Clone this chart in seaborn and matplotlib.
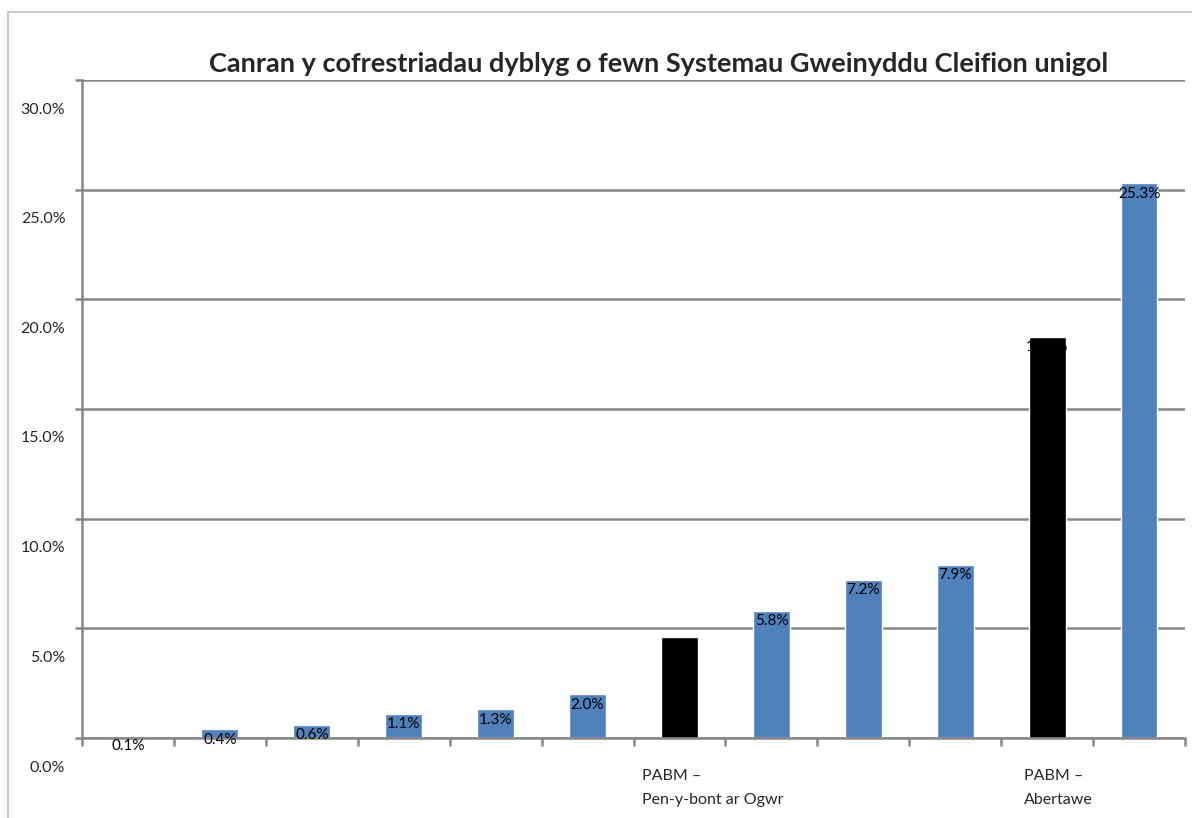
import numpy as np
import pandas as pd
import seaborn as sns
import matplotlib.pyplot as plt
import matplotlib.transforms as mtransforms
from matplotlib.patches import Rectangle

title = "Canran y cofrestriadau dyblyg o fewn Systemau Gweinyddu Cleifion unigol"
bar_ids = ["1", "2", "3", "4", "5", "6", "7", "8", "9", "10", "11", "12"]
values = [0.1, 0.4, 0.6, 1.1, 1.3, 2.0, 4.6, 5.8, 7.2, 7.9, 18.3, 25.3]
tick_labels = ["", "", "", "", "", "", "PABM –\nPen-y-bont ar Ogwr",
               "", "", "", "PABM –\nAbertawe", ""]
y_ticks = [0, 5, 10, 15, 20, 25, 30]

sns.set_style("white")
plt.rcParams["font.family"] = ["Lato", "DejaVu Sans"]

grey = "#868686"
colors = {b: ("#000000" if lbl else "#4F81BD") for b, lbl in zip(bar_ids, tick_labels)}
df = pd.DataFrame({"id": bar_ids, "value": values})

fig = plt.figure(figsize=(11.92, 8.18), dpi=100)
ax = fig.add_axes([82 / 1192, 80 / 818, 1103 / 1192, 658 / 818])

sns.barplot(data=df, x="id", y="value", hue="id", palette=colors, legend=False,
            width=0.4, saturation=1, ax=ax)

ax.set_xlim(-0.5, 11.5)
ax.set_ylim(0, 30)
ax.set_yticks(y_ticks)
ax.set_yticklabels([f"{v:.1f}%" for v in y_ticks], fontsize=11.5)
ax.yaxis.grid(True, color=grey, linewidth=1.8)
ax.set_axisbelow(True)
for s in ["top", "right"]:
    ax.spines[s].set_visible(False)
for s in ["left", "bottom"]:
    ax.spines[s].set_color(grey)
    ax.spines[s].set_linewidth(1.8)
ax.tick_params(axis="y", length=5, width=1.8, color=grey, pad=7, left=True)
ax.set_xlabel("")
ax.set_ylabel("")

# ticks between bars, labels at bar centres
ax.set_xticks(np.arange(len(bar_ids)))
ax.set_xticklabels(tick_labels, fontsize=11.5, ha="left", va="top", linespacing=1.95)
ax.set_xticks(np.arange(len(bar_ids) + 1) - 0.5, minor=True)
ax.tick_params(axis="x", which="major", length=0, pad=22)
ax.tick_params(axis="x", which="minor", length=6, width=1.8, color=grey, bottom=True)

# y labels sit below their gridlines, x labels shifted left
shift_y = mtransforms.ScaledTranslation(0, -0.28, fig.dpi_scale_trans)
for lab in ax.get_yticklabels():
    lab.set_transform(lab.get_transform() + shift_y)
x_shift = [0, 0, 0, 0, 0, 0, -0.37, 0, 0, 0, -0.23, 0]
for lab, dx in zip(ax.get_xticklabels(), x_shift):
    lab.set_transform(lab.get_transform() + mtransforms.ScaledTranslation(dx, 0, fig.dpi_scale_trans))

for i, v in enumerate(values):
    ax.annotate(f"{v:.1f}%", (i, v), xytext=(0, -7.5), textcoords="offset points",
                ha="center", va="center", fontsize=11, color="black")

fig.text(659 / 1192, 1 - 72 / 818, title, ha="center", va="baseline",
         fontsize=19.5, fontweight="bold")

fig.patches.append(Rectangle((8 / 1192, -0.1), 1.1, 1.1 - 12 / 818, transform=fig.transFigure,
                             fill=False, edgecolor="#BFBFBF", linewidth=1.2))

fig.savefig("out.png", dpi=100)
